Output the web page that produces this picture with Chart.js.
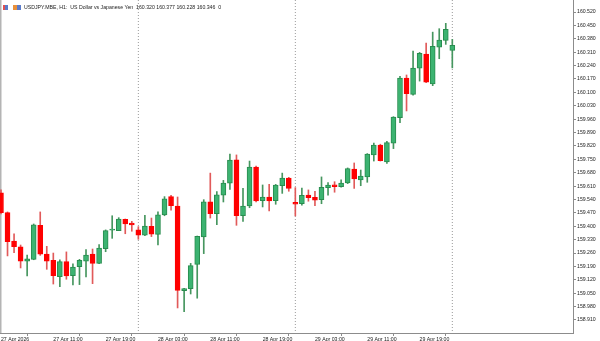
<!DOCTYPE html>
<html>
<head>
<meta charset="utf-8">
<script src="https://cdn.jsdelivr.net/npm/chart.js@4"></script>
<style>
  html, body { margin: 0; padding: 0; background: #fff; }
  #wrap { position: relative; width: 600px; height: 341px; }
  #header {
    position: absolute; left: 3px; top: 4px;
    font: 5.2px "Liberation Sans", Arial, sans-serif; color: #222;
    white-space: pre; line-height: 6px;
  }
  .ico { display: inline-block; width: 5px; height: 5px; vertical-align: -1px; margin-right: 5px; }
  #ico1 { background: linear-gradient(90deg, #e05050 50%, #5a7ac8 50%); }
  #ico2 { width: 8px; background: linear-gradient(90deg, #e8903a 50%, #5a7ac8 50%); margin-right: 3px; }
</style>
</head>
<body>
<div id="wrap">
  <canvas id="chart" width="600" height="341"></canvas>
  <div id="header"><span class="ico" id="ico1"></span><span class="ico" id="ico2"></span>USDJPY.MBE, H1:  US Dollar vs Japanese Yen  160.320 160.377 160.228 160.346  0</div>
</div>
<script>
// USDJPY H1 candles, 27 Apr 03:00 .. 30 Apr 00:00
const opens = [
  159.575, 159.471, 159.323, 159.292, 159.217, 159.227, 159.405, 159.255, 159.222, 159.136,
  159.215, 159.142, 159.189, 159.218, 159.254, 159.206, 159.283, 159.380, 159.377, 159.436,
  159.417, 159.381, 159.354, 159.400, 159.358, 159.459, 159.555, 159.506, 159.063, 159.074,
  159.201, 159.344, 159.528, 159.466, 159.563, 159.625, 159.748, 159.455, 159.506, 159.710,
  159.534, 159.553, 159.534, 159.612, 159.652, 159.525, 159.518, 159.563, 159.551, 159.539,
  159.602, 159.617, 159.607, 159.626, 159.699, 159.642, 159.658, 159.773, 159.825, 159.736,
  159.834, 159.968, 160.175, 160.090, 160.226, 160.300, 160.144, 160.337, 160.372, 160.320
];
const highs = [
  159.590, 159.475, 159.360, 159.302, 159.250, 159.412, 159.475, 159.295, 159.260, 159.225,
  159.266, 159.204, 159.227, 159.278, 159.281, 159.304, 159.381, 159.455, 159.445, 159.438,
  159.426, 159.398, 159.457, 159.443, 159.475, 159.555, 159.562, 159.553, 159.076, 159.206,
  159.349, 159.539, 159.678, 159.581, 159.640, 159.778, 159.773, 159.598, 159.741, 159.715,
  159.616, 159.619, 159.619, 159.678, 159.656, 159.602, 159.600, 159.590, 159.583, 159.658,
  159.628, 159.633, 159.643, 159.705, 159.731, 159.694, 159.780, 159.835, 159.829, 159.844,
  159.973, 160.184, 160.191, 160.316, 160.309, 160.358, 160.415, 160.433, 160.461, 160.377
];
const lows = [
  159.464, 159.245, 159.262, 159.182, 159.140, 159.225, 159.248, 159.175, 159.098, 159.084,
  159.123, 159.093, 159.095, 159.135, 159.100, 159.205, 159.267, 159.337, 159.377, 159.361,
  159.374, 159.332, 159.351, 159.346, 159.302, 159.455, 159.484, 158.973, 158.953, 159.046,
  159.024, 159.257, 159.443, 159.408, 159.527, 159.593, 159.405, 159.426, 159.497, 159.527,
  159.501, 159.480, 159.515, 159.572, 159.583, 159.454, 159.510, 159.531, 159.508, 159.518,
  159.562, 159.578, 159.605, 159.623, 159.598, 159.612, 159.630, 159.741, 159.741, 159.729,
  159.806, 159.941, 160.003, 160.086, 160.159, 160.151, 160.135, 160.276, 160.351, 160.228
];
const closes = [
  159.471, 159.319, 159.293, 159.218, 159.230, 159.407, 159.254, 159.218, 159.142, 159.215,
  159.140, 159.187, 159.222, 159.250, 159.206, 159.286, 159.377, 159.381, 159.438, 159.412,
  159.407, 159.354, 159.401, 159.359, 159.460, 159.544, 159.508, 159.065, 159.074, 159.194,
  159.348, 159.528, 159.466, 159.565, 159.626, 159.746, 159.455, 159.506, 159.710, 159.532,
  159.553, 159.532, 159.616, 159.652, 159.598, 159.516, 159.562, 159.549, 159.537, 159.604,
  159.616, 159.607, 159.626, 159.701, 159.647, 159.663, 159.778, 159.825, 159.743, 159.837,
  159.971, 160.175, 160.093, 160.227, 160.304, 160.153, 160.341, 160.374, 160.430, 160.346
];

const timeTickIdx = [0, 8, 16, 24, 32, 40, 48, 56, 64];
const timeTickLabels = ['27 Apr 2026', '27 Apr 11:00', '27 Apr 19:00', '28 Apr 03:00', '28 Apr 11:00',
                        '28 Apr 19:00', '29 Apr 03:00', '29 Apr 11:00', '29 Apr 19:00'];
const daySeparatorIdx = [21, 45, 69];
const priceTicks = [
  158.910, 158.980, 159.050, 159.120, 159.190, 159.260, 159.330, 159.400, 159.470, 159.540,
  159.610, 159.680, 159.750, 159.820, 159.890, 159.960, 160.030, 160.100, 160.170, 160.240,
  160.310, 160.380, 160.450, 160.520
];

const PRICE_MIN = 158.842;
const PRICE_MAX = 160.583;
const UP_FILL = 'rgb(60,179,113)';
const UP_LINE = 'rgb(40,140,78)';
const DOWN_FILL = 'rgb(255,0,0)';
const AXIS_GRAY = '#8c8c8c';
const FONT = { family: 'Liberation Sans, Arial, sans-serif', size: 5.2 };

const isUp = i => closes[i] >= opens[i];

const bodies = opens.map((o, i) => ({ x: i, y: [o, closes[i]] }));
const wicks = lows.map((l, i) => ({ x: i, y: [l, highs[i]] }));

const separatorSets = daySeparatorIdx.map(idx => ({
    type: 'line',
    data: [{ x: idx, y: PRICE_MAX }, { x: idx, y: PRICE_MIN }],
    borderColor: '#9a9a9a',
    borderWidth: 1,
    borderDash: [1, 2],
    pointRadius: 0,
    order: 3
}));

// left frame line of the chart window
const framePlugin = {
    id: 'frame',
    beforeDraw(chart) {
        const c = chart.ctx;
        c.save();
        c.fillStyle = '#b4b4b4';
        c.fillRect(0, 0, 1.5, chart.chartArea.bottom);
        c.restore();
    }
};

const noPad = s => { s.paddingTop = 0; s.paddingBottom = 0; s.paddingLeft = 0; s.paddingRight = 0; };

new Chart(document.getElementById('chart').getContext('2d'), {
    type: 'bar',
    data: {
        datasets: [{
            label: 'body',
            data: bodies,
            barThickness: 5,
            minBarLength: 1,
            grouped: false,
            borderSkipped: false,
            borderWidth: 1,
            backgroundColor: ctx => isUp(ctx.dataIndex) ? UP_FILL : DOWN_FILL,
            borderColor: ctx => isUp(ctx.dataIndex) ? UP_LINE : DOWN_FILL,
            order: 1
        }, {
            label: 'wick',
            data: wicks,
            barThickness: 1,
            grouped: false,
            borderWidth: 0,
            backgroundColor: ctx => isUp(ctx.dataIndex) ? 'rgb(70,150,95)' : 'rgb(225,90,90)',
            order: 2
        }, ...separatorSets]
    },
    options: {
        animation: false,
        responsive: false,
        layout: { padding: 0 },
        plugins: {
            legend: { display: false },
            tooltip: { enabled: false }
        },
        scales: {
            x: {
                type: 'linear',
                min: -0.15,
                max: 87.45,
                offset: false,
                afterBuildTicks: s => { s.ticks = timeTickIdx.map(v => ({ value: v })); },
                afterFit: s => { s.height = 8; noPad(s); },
                grid: { drawOnChartArea: false, drawTicks: true, tickLength: 3, color: AXIS_GRAY },
                border: { display: true, color: AXIS_GRAY },
                ticks: {
                    autoSkip: false,
                    maxRotation: 0,
                    align: 'start',
                    padding: 0,
                    color: '#222',
                    font: FONT,
                    callback: v => timeTickLabels[timeTickIdx.indexOf(v)]
                }
            },
            y: {
                position: 'right',
                min: PRICE_MIN,
                max: PRICE_MAX,
                afterBuildTicks: s => { s.ticks = priceTicks.map(v => ({ value: v })); },
                afterFit: s => { s.width = 27; noPad(s); },
                grid: { drawOnChartArea: false, drawTicks: true, tickLength: 3, color: AXIS_GRAY },
                border: { display: true, color: AXIS_GRAY },
                ticks: {
                    padding: 1,
                    color: '#222',
                    font: FONT,
                    callback: v => v.toFixed(3)
                }
            }
        }
    },
    plugins: [framePlugin]
});
</script>
</body>
</html>
